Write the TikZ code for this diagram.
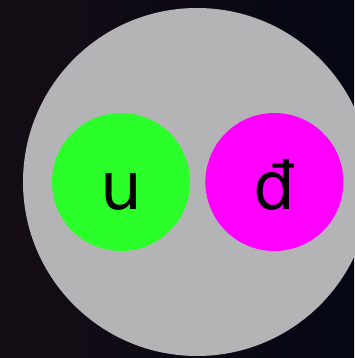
\documentclass[tikz,border=0pt]{standalone}
\usepackage{fontspec}
\newfontfamily\quarkfont{DejaVu Sans}
\usetikzlibrary{positioning}
\definecolor{spaceleft}{HTML}{150D15}
\definecolor{spaceright}{HTML}{050714}
\definecolor{hadroncolor}{HTML}{B4B4B6}
\definecolor{upcolor}{HTML}{2AFF2A}
\definecolor{antidowncolor}{HTML}{FF00FF}

\begin{document}
\begin{tikzpicture}[x=1pt, y=-1pt,
    quark/.style={circle, minimum size=138pt, inner sep=0pt,
        text height=54pt, text depth=0pt,
        font=\quarkfont\fontsize{66}{66}\selectfont}]
    % Background
    \shade[left color=spaceleft, right color=spaceright] (0,0) rectangle (354,358);
    \useasboundingbox (0,0) rectangle (354,358);
    % Meson
    \node[circle, fill=hadroncolor, minimum size=348pt] (meson) at (197,182) {};
    % Quarks
    \node[quark, fill=upcolor] (up) at (121,182) {u};
    \node[quark, fill=antidowncolor, right=15pt of up] (antidown) {đ};
\end{tikzpicture}
\end{document}
